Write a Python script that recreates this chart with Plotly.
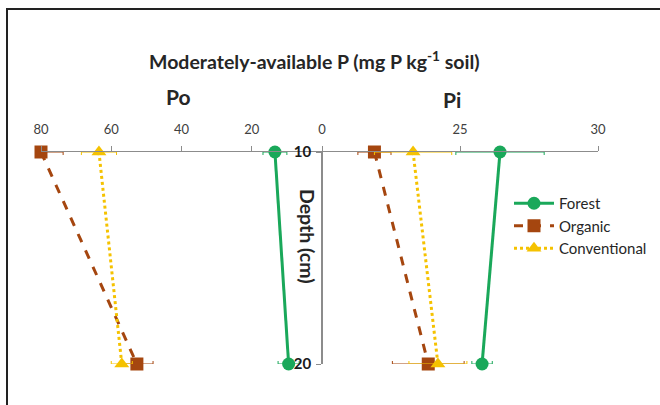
import plotly.graph_objects as go

W, H = 660, 405

depths = [10, 20]
series = ["Forest", "Organic", "Conventional"]

# Po (organic P) values, mg P kg-1 soil
po_forest = [13.4, 9.5]
po_organic = [80.0, 52.7]
po_conventional = [63.5, 57.0]
po_forest_err = [3.4, 3.0]
po_organic_err = [6.3, 4.6]
po_conventional_err = [5.0, 3.0]

# Pi (inorganic P) values
pi_forest = [26.45, 25.8]
pi_organic = [21.9, 23.85]
pi_conventional = [23.3, 24.2]
pi_forest_err = [1.6, 0.37]
pi_organic_err = [0.6, 1.3]
pi_conventional_err = [1.4, 1.05]

po_ticks = [0, 20, 40, 60, 80]
pi_ticks = [25, 30]
depth_ticks = [10, 20]

FONT = "Lato"
colors = {"Forest": "#1aa85a", "Organic": "#a5460f", "Conventional": "#f5c200"}
dashes = {"Forest": "solid", "Organic": "dash", "Conventional": "dot"}
symbols = {"Forest": "circle", "Organic": "square", "Conventional": "triangle-up"}

po = {"Forest": (po_forest, po_forest_err), "Organic": (po_organic, po_organic_err),
      "Conventional": (po_conventional, po_conventional_err)}
pi = {"Forest": (pi_forest, pi_forest_err), "Organic": (pi_organic, pi_organic_err),
      "Conventional": (pi_conventional, pi_conventional_err)}

fig = go.Figure()

for name in series:
    vals, err = po[name]
    fig.add_trace(go.Scatter(
        x=vals, y=depths, xaxis="x", yaxis="y", name=name, showlegend=False,
        mode="lines+markers",
        line=dict(color=colors[name], width=3, dash=dashes[name]),
        marker=dict(symbol=symbols[name], size=13, color=colors[name]),
        error_x=dict(type="data", array=err, color=colors[name], thickness=1, width=3),
        cliponaxis=False,
    ))
for name in series:
    vals, err = pi[name]
    fig.add_trace(go.Scatter(
        x=vals, y=depths, xaxis="x2", yaxis="y", name=name, showlegend=True,
        mode="lines+markers",
        line=dict(color=colors[name], width=3, dash=dashes[name]),
        marker=dict(symbol=symbols[name], size=13, color=colors[name]),
        error_x=dict(type="data", array=err, color=colors[name], thickness=1, width=3),
        cliponaxis=False,
    ))

def px_x(p):
    return p / W

def px_y(p):
    return 1 - p / H

axis_common = dict(
    side="top", showline=True, linecolor="#8c8c8c", linewidth=1,
    ticks="outside", ticklen=5, tickcolor="#8c8c8c", tickwidth=1,
    showgrid=False, zeroline=False, automargin=False,
    tickfont=dict(family=FONT, size=13, color="#404040"),
    ticklabelstandoff=7,
)

fig.update_layout(
    width=W, height=H,
    margin=dict(l=0, r=0, t=0, b=0, autoexpand=False),
    paper_bgcolor="white", plot_bgcolor="rgba(0,0,0,0)",
    font=dict(family=FONT, color="#262626"),
    xaxis=dict(domain=[px_x(41), px_x(322)], range=[80, 0], anchor="y",
               tickvals=po_ticks, **axis_common),
    xaxis2=dict(domain=[px_x(322), px_x(598)], range=[20, 30], anchor="y",
                tickvals=pi_ticks, **axis_common),
    yaxis=dict(domain=[px_y(364), px_y(152)], range=[20, 10], anchor="free",
               position=px_x(322), side="left", automargin=False,
               showline=True, linecolor="#8c8c8c", linewidth=1.5,
               ticks="outside", ticklen=5, tickcolor="#8c8c8c",
               showgrid=False, zeroline=False, tickvals=depth_ticks,
               tickfont=dict(family=FONT, size=15, color="#1a1a1a", weight="bold"),
               ticklabelstandoff=2),
    legend=dict(x=px_x(509), y=px_y(187), xanchor="left", yanchor="top",
                font=dict(family=FONT, size=15, color="#262626"),
                bgcolor="rgba(0,0,0,0)", itemwidth=40, tracegroupgap=0),
    showlegend=True,
)

annotations = [
    dict(text="<b>Moderately-available P (mg P kg<sup>-1</sup> soil)</b>", x=px_x(314), y=px_y(60),
         font=dict(size=19.5, color="#262626", family=FONT)),
    dict(text="<b>Po</b>", x=px_x(178), y=px_y(97), font=dict(size=21, color="#262626", family=FONT)),
    dict(text="<b>Pi</b>", x=px_x(452), y=px_y(99), font=dict(size=21, color="#262626", family=FONT)),
    dict(text="<b>Depth (cm)</b>", x=px_x(308), y=px_y(236), textangle=90,
         font=dict(size=19.5, color="#262626", family=FONT)),
]
for a in annotations:
    a.update(xref="paper", yref="paper", showarrow=False, xanchor="center", yanchor="middle")
fig.update_layout(annotations=annotations)

fig.add_shape(type="rect", xref="paper", yref="paper",
              x0=px_x(7), x1=1.2, y0=-0.2, y1=px_y(9),
              line=dict(color="#222222", width=2), fillcolor="rgba(0,0,0,0)", layer="above")

fig.write_html("out.html", config={"displayModeBar": False},
               post_script="document.body.style.margin='0px';document.body.style.overflow='hidden';")
